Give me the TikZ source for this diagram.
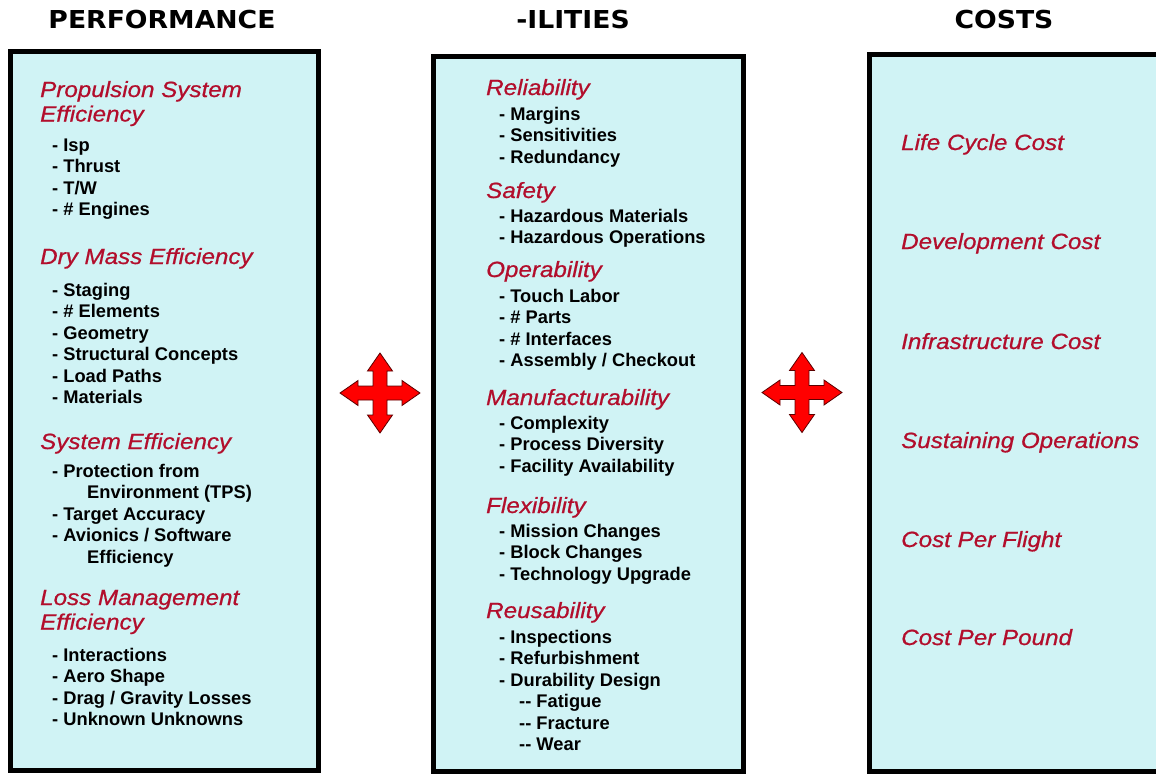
\documentclass[tikz,border=0pt]{standalone}
\usepackage{fontspec}
\setmainfont{Liberation Sans}
\newfontfamily\titlefont[FakeStretch=1.08]{DejaVu Sans}
\newfontfamily\topicfont[FakeStretch=1.1, FakeBold=0.7]{Liberation Sans}
\definecolor{boxfill}{RGB}{208,243,245}
\definecolor{topicred}{RGB}{178,14,44}
\definecolor{arrowrim}{RGB}{90,0,0}
\tikzset{
  crossarrow/.pic={
    \filldraw[fill=red, draw=arrowrim, line width=0.8pt]
      (0,-40) -- (12.5,-22) -- (7,-22) -- (7,-7) -- (22,-7) -- (22,-12.5)
      -- (40,0) -- (22,12.5) -- (22,7) -- (7,7) -- (7,22) -- (12.5,22)
      -- (0,40) -- (-12.5,22) -- (-7,22) -- (-7,7) -- (-22,7) -- (-22,12.5)
      -- (-40,0) -- (-22,-12.5) -- (-22,-7) -- (-7,-7) -- (-7,-22) -- (-12.5,-22)
      -- cycle;
  }
}
\begin{document}
\begin{tikzpicture}[x=1pt, y=-1pt,
  column/.style={draw=black, line width=5pt, fill=boxfill},
  title/.style={font=\titlefont\bfseries\fontsize{24.7}{28}\selectfont, anchor=base, inner sep=0pt},
  topic/.style={font=\topicfont\itshape\fontsize{22}{24.5}\selectfont, text=topicred,
    align=left, anchor=base west, inner sep=0pt},
  entries/.style={font=\bfseries\fontsize{18.3}{21.5}\selectfont, align=left,
    anchor=base west, inner sep=0pt}]
  \useasboundingbox (0,0) rectangle (1156,774);
  \clip (0,0) rectangle (1156,774);

  % column titles
  \node[title] (perf-title) at (162,28.5) {PERFORMANCE};
  \node[title] (ility-title) at (573,28.5) {-ILITIES};
  \node[title] (cost-title) at (1004,28.5) {COSTS};

  % column boxes (the costs box runs off the right edge)
  \draw[column] (10.5,51.5) rectangle (318,770.5);
  \draw[column] (433,56) rectangle (743.5,771.5);
  \draw[column] (869.5,54) rectangle (1180,771.5);

  % performance (y = baseline of the last line)
  \node[topic] (perf-prop) at (40,121.5) {Propulsion System\\Efficiency};
  \node[entries] (perf-prop-list) at (52,215.5) {- Isp\\- Thrust\\- T/W\\- \# Engines};
  \node[topic] (perf-mass) at (40,264) {Dry Mass Efficiency};
  \node[entries] (perf-mass-list) at (52,403.5)
    {- Staging\\- \# Elements\\- Geometry\\- Structural Concepts\\- Load Paths\\- Materials};
  \node[topic] (perf-sys) at (40,449) {System Efficiency};
  \node[entries] (perf-sys-list) at (52,563)
    {- Protection from\\\hspace*{35pt}Environment (TPS)\\- Target Accuracy\\- Avionics / Software\\\hspace*{35pt}Efficiency};
  \node[topic] (perf-loss) at (40,629.5) {Loss Management\\Efficiency};
  \node[entries] (perf-loss-list) at (52,725.5)
    {- Interactions\\- Aero Shape\\- Drag / Gravity Losses\\- Unknown Unknowns};

  % -ilities
  \node[topic] (ility-rel) at (486,95) {Reliability};
  \node[entries] (ility-rel-list) at (499,163) {- Margins\\- Sensitivities\\- Redundancy};
  \node[topic] (ility-safe) at (486,198) {Safety};
  \node[entries] (ility-safe-list) at (499,243.5) {- Hazardous Materials\\- Hazardous Operations};
  \node[topic] (ility-oper) at (486,277) {Operability};
  \node[entries] (ility-oper-list) at (499,366.5)
    {- Touch Labor\\- \# Parts\\- \# Interfaces\\- Assembly / Checkout};
  \node[topic] (ility-manu) at (486,405) {Manufacturability};
  \node[entries] (ility-manu-list) at (499,472)
    {- Complexity\\- Process Diversity\\- Facility Availability};
  \node[topic] (ility-flex) at (486,513) {Flexibility};
  \node[entries] (ility-flex-list) at (499,580)
    {- Mission Changes\\- Block Changes\\- Technology Upgrade};
  \node[topic] (ility-reuse) at (486,618) {Reusability};
  \node[entries] (ility-reuse-list) at (499,750.5)
    {- Inspections\\- Refurbishment\\- Durability Design\\\hspace*{20pt}-{}- Fatigue\\\hspace*{20pt}-{}- Fracture\\\hspace*{20pt}-{}- Wear};

  % costs
  \node[topic] (cost-life) at (901,150) {Life Cycle Cost};
  \node[topic] (cost-dev) at (901,249) {Development Cost};
  \node[topic] (cost-infra) at (901,349) {Infrastructure Cost};
  \node[topic] (cost-ops) at (901,448) {Sustaining Operations};
  \node[topic] (cost-flight) at (901,547) {Cost Per Flight};
  \node[topic] (cost-pound) at (901,645) {Cost Per Pound};

  % trade arrows between the columns
  \pic at (380,393) {crossarrow};
  \pic at (802,392.5) {crossarrow};
\end{tikzpicture}
\end{document}
